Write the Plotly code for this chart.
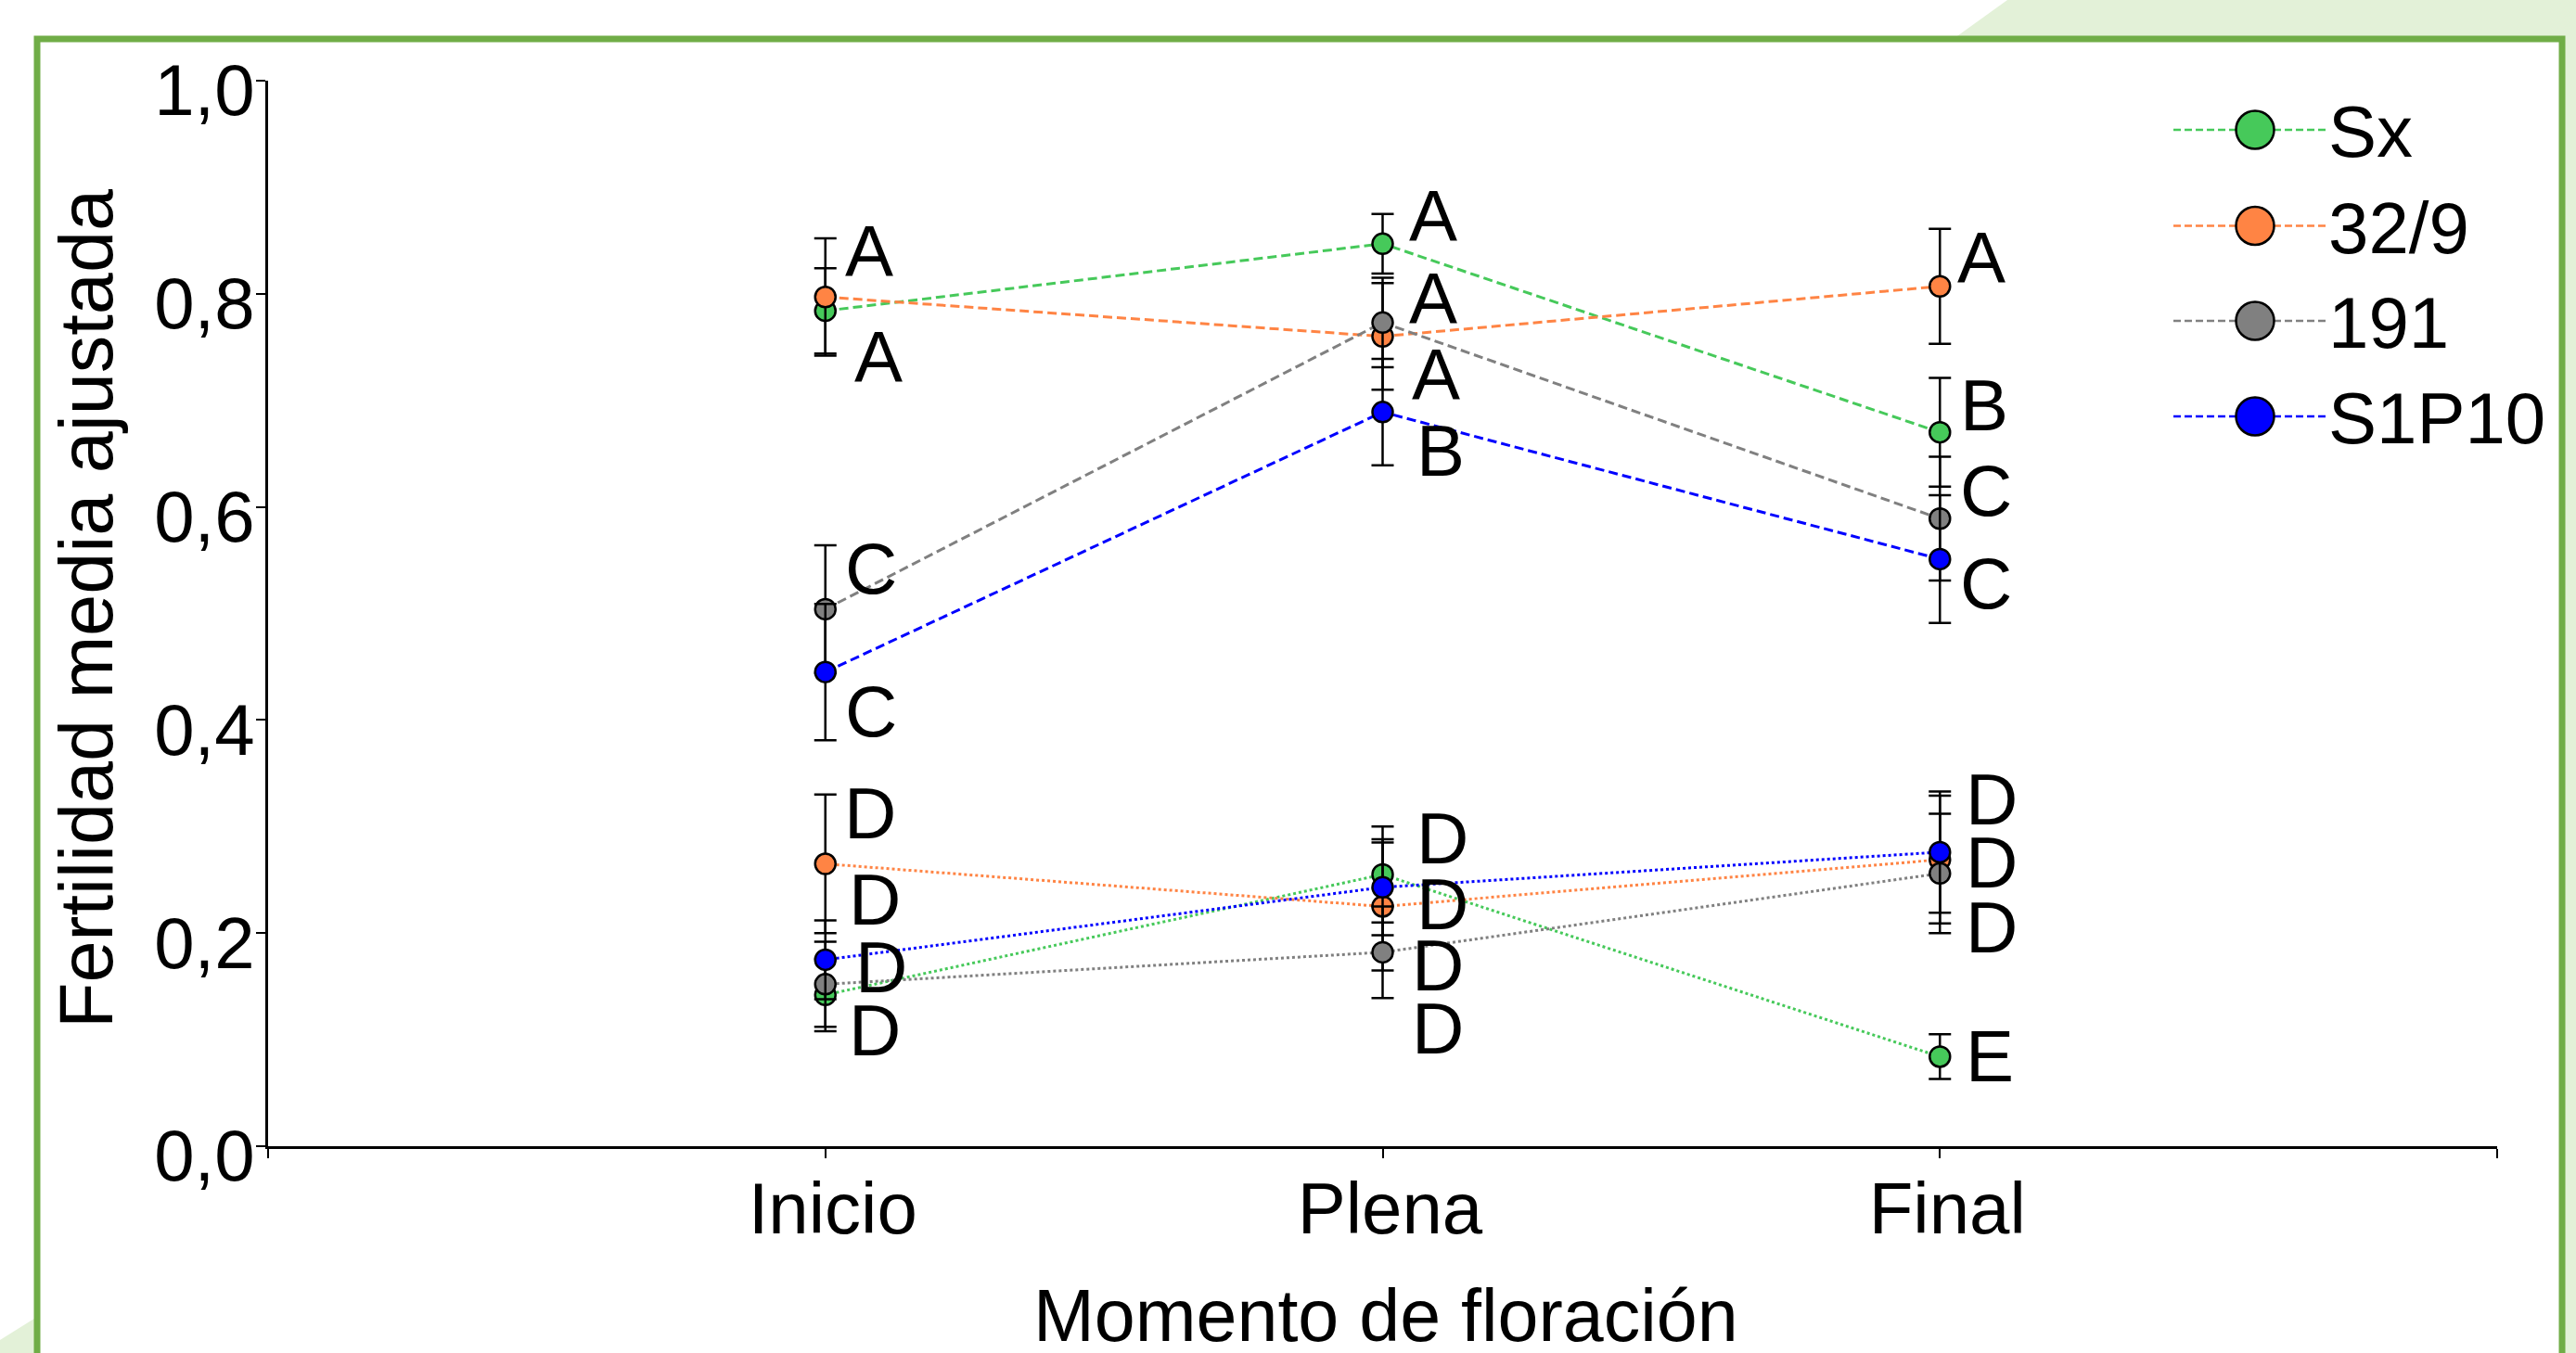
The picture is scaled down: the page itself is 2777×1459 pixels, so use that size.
import plotly.graph_objects as go

# ---------------- data ----------------
categories = ["Inicio", "Plena", "Final"]
genotypes = ["Sx", "32/9", "191", "S1P10"]
colors = ["#46c95a", "#ff8444", "#808080", "#0000ff"]

# upper group (dashed lines)
sx_up = [0.784, 0.847, 0.670]
sx_up_err = [0.040, 0.028, 0.051]
g329_up = [0.797, 0.760, 0.807]
g329_up_err = [0.055, 0.050, 0.054]
g191_up = [0.504, 0.773, 0.589]
g191_up_err = [0.060, 0.042, 0.058]
s1p10_up = [0.445, 0.689, 0.551]
s1p10_up_err = [0.064, 0.050, 0.060]

# lower group (dotted lines)
sx_lo = [0.142, 0.255, 0.084]
sx_lo_err = [0.034, 0.045, 0.021]
g329_lo = [0.265, 0.225, 0.269]
g329_lo_err = [0.065, 0.060, 0.060]
g191_lo = [0.152, 0.182, 0.256]
g191_lo_err = [0.040, 0.043, 0.056]
s1p10_lo = [0.175, 0.243, 0.276]
s1p10_lo_err = [0.037, 0.045, 0.057]

# significance letters per category
inicio_letters = ["A", "A", "C", "C", "D", "D", "D", "D"]
plena_letters = ["A", "A", "A", "B", "D", "D", "D", "D"]
final_letters = ["A", "B", "C", "C", "D", "D", "D", "E"]

y_ticks = [0.0, 0.2, 0.4, 0.6, 0.8, 1.0]
x_title = "Momento de floración"
y_title = "Fertilidad media ajustada"

# ---------------- label placement (style, not data) ----------------
inicio_letter_y = [0.8435, 0.744, 0.5457, 0.412, 0.316, 0.235, 0.1717, 0.1126]
inicio_letter_dx = [23, 33, 23, 23, 22, 27, 34, 27]
plena_letter_y = [0.876, 0.799, 0.728, 0.6565, 0.292, 0.231, 0.1735, 0.1143]
plena_letter_dx = [30, 30, 33, 38, 38, 38, 33, 33]
final_letter_y = [0.837, 0.699, 0.619, 0.532, 0.329, 0.270, 0.209, 0.088]
final_letter_dx = [21, 24, 24, 24, 30, 30, 30, 30]

W, H = 2777, 1459
L, R, T, B = 289, 2692, 87, 1236
FONT = "Liberation Sans, Arial, sans-serif"
FS = 78


def px(x):
    return (x - L) / (R - L)


def py(y):
    return (B - y) / (B - T)


x_pos = list(range(1, len(categories) + 1))

fig = go.Figure()

upper = [(sx_up, sx_up_err), (g329_up, g329_up_err), (g191_up, g191_up_err), (s1p10_up, s1p10_up_err)]
lower = [(sx_lo, sx_lo_err), (g329_lo, g329_lo_err), (g191_lo, g191_lo_err), (s1p10_lo, s1p10_lo_err)]

for group, dash in ((upper, "10px,5px"), (lower, "3px,3px")):
    for name, col, (vals, err) in zip(genotypes, colors, group):
        fig.add_trace(go.Scatter(
            x=x_pos, y=vals, name=name, mode="lines+markers",
            line=dict(color=col, width=3, dash=dash),
            marker=dict(size=22, color=col, line=dict(color="black", width=2.5)),
            error_y=dict(type="data", array=err, color="black", thickness=2.5, width=12),
            showlegend=False, xaxis="x", yaxis="y",
        ))

# letters
annotations = []
for xi, letters, ys, dxs in zip(x_pos,
                                [inicio_letters, plena_letters, final_letters],
                                [inicio_letter_y, plena_letter_y, final_letter_y],
                                [inicio_letter_dx, plena_letter_dx, final_letter_dx]):
    for t, yv, dx in zip(letters, ys, dxs):
        annotations.append(dict(
            x=xi, y=yv, xref="x", yref="y", text=t, showarrow=False,
            xanchor="left", yanchor="middle", xshift=dx - 4, yshift=-4,
            font=dict(family=FONT, size=FS, color="black"),
        ))

# custom legend (on overlay axes in pixel units)
leg_x0, leg_xm, leg_x1 = 2343, 2431, 2507
leg_rows = [140, 243.5, 346, 449]
for name, col, yr in zip(genotypes, colors, leg_rows):
    fig.add_trace(go.Scatter(
        x=[leg_x0, leg_x1], y=[yr, yr], mode="lines",
        line=dict(color=col, width=2.5, dash="8px,4px"),
        showlegend=False, hoverinfo="skip", xaxis="x2", yaxis="y2",
    ))
    fig.add_trace(go.Scatter(
        x=[leg_xm], y=[yr], mode="markers",
        marker=dict(size=41, color=col, line=dict(color="black", width=2.5)),
        showlegend=False, hoverinfo="skip", xaxis="x2", yaxis="y2",
    ))
    annotations.append(dict(
        x=2508, y=yr, xref="x2", yref="y2", text=name, showarrow=False,
        xanchor="left", yanchor="middle", yshift=-2,
        font=dict(family=FONT, size=FS, color="black"),
    ))

# axis titles
annotations.append(dict(
    x=px(1494), y=py(1418), xref="paper", yref="paper", text=x_title,
    showarrow=False, xanchor="center", yanchor="middle",
    font=dict(family=FONT, size=79, color="black"),
))
annotations.append(dict(
    x=px(93), y=py(656), xref="paper", yref="paper", text=y_title,
    showarrow=False, xanchor="center", yanchor="middle", textangle=-90,
    font=dict(family=FONT, size=81, color="black"),
))

shapes = [
    # light green decoration top-right
    dict(type="path", xref="paper", yref="paper", layer="below",
         path=f"M {px(2164)},{py(0)} L {px(2777)},{py(0)} L {px(2777)},{py(1459)} L {px(136)},{py(1459)} Z",
         fillcolor="#e3f1d8", line=dict(width=0)),
    # light green decoration bottom-left
    dict(type="path", xref="paper", yref="paper", layer="below",
         path=f"M {px(0)},{py(1445)} L {px(40)},{py(1420)} L {px(40)},{py(1459)} L {px(0)},{py(1459)} Z",
         fillcolor="#e3f1d8", line=dict(width=0)),
    # frame
    dict(type="rect", xref="paper", yref="paper", layer="below",
         x0=px(40), x1=px(2762), y0=py(42), y1=py(1520),
         fillcolor="white", line=dict(color="#70ad47", width=7)),
]

fig.update_layout(
    width=W, height=H,
    margin=dict(l=L, r=W - R, t=T, b=H - B, autoexpand=False),
    paper_bgcolor="white", plot_bgcolor="rgba(0,0,0,0)",
    separators=",.",
    font=dict(family=FONT, size=FS, color="black"),
    showlegend=False,
    annotations=annotations,
    shapes=shapes,
    xaxis=dict(
        range=[0, len(categories) + 1],
        tickvals=[0] + x_pos + [len(categories) + 1],
        ticktext=[""] + categories + [""],
        showline=True, linecolor="black", linewidth=2.5,
        ticks="outside", ticklen=10, tickwidth=2, tickcolor="black",
        showgrid=False, zeroline=False,
        tickfont=dict(family=FONT, size=FS),
        ticklabelstandoff=-12, ticklabelshift=8,
    ),
    yaxis=dict(
        range=[0, 1], tickvals=y_ticks, tickformat=".1f",
        showline=True, linecolor="black", linewidth=2.5,
        ticks="outside", ticklen=10, tickwidth=2, tickcolor="black",
        showgrid=False, zeroline=False,
        tickfont=dict(family=FONT, size=FS),
        ticklabelstandoff=-14, ticklabelshift=10,
    ),
    xaxis2=dict(range=[L, R], overlaying="x", visible=False, fixedrange=True),
    yaxis2=dict(range=[B, T], overlaying="y", visible=False, fixedrange=True),
)

fig.write_html(
    "out.html",
    config={"displayModeBar": False},
    post_script="document.body.style.margin='0';document.body.style.overflow='hidden';",
)
